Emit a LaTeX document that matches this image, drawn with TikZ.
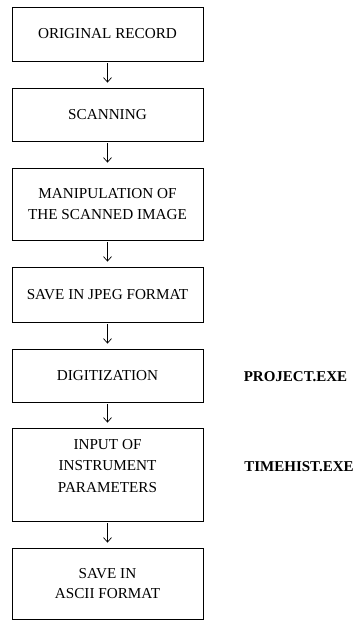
\documentclass[tikz,border=0pt]{standalone}
\usepackage{fontspec}
\setmainfont{Liberation Serif}
\usetikzlibrary{arrows.meta}
\tikzset{
  box/.style={draw=black, line width=0.8pt, minimum width=191pt, inner sep=0pt, align=center,
    font=\fontsize{15.2pt}{20.5pt}\selectfont},
  txt/.style={inner sep=0pt, align=center, font=\fontsize{15.2pt}{21.5pt}\selectfont},
  prog/.style={inner sep=0pt, font=\fontsize{15pt}{18pt}\selectfont\bfseries},
  flow/.style={line width=0.7pt, -{Straight Barb[length=4.5pt,width=8pt,line width=0.7pt]},
    shorten <=2pt, shorten >=5pt}
}
\begin{document}
\begin{tikzpicture}[x=1pt,y=-1pt]
\useasboundingbox (0,0) rectangle (356,621);
\node[box, minimum height=54pt] (b1) at (107.5,34) {ORIGINAL RECORD};
\node[box, minimum height=53pt] (b2) at (107.5,114.5) {SCANNING};
\node[box, minimum height=72pt] (b3) at (107.5,204) {MANIPULATION OF\\THE SCANNED IMAGE};
\node[box, minimum height=55pt] (b4) at (107.5,294.5) {SAVE IN JPEG FORMAT};
\node[box, minimum height=53pt] (b5) at (107.5,375.5) {DIGITIZATION};
\node[box, minimum height=93pt] (b6) at (107.5,474.5) {};
\node[txt] (t6) at (107.5,466) {INPUT OF\\INSTRUMENT\\PARAMETERS};
\node[box, minimum height=71pt] (b7) at (107.5,583.5) {SAVE IN\\ASCII FORMAT};
\node[prog] (p1) at (295.5,377) {PROJECT.EXE};
\node[prog] (p2) at (299,467) {TIMEHIST.EXE};
\draw[flow] (b1) -- (b2);
\draw[flow] (b2) -- (b3);
\draw[flow] (b3) -- (b4);
\draw[flow] (b4) -- (b5);
\draw[flow] (b5) -- (b6);
\draw[flow] (b6) -- (b7);
\end{tikzpicture}
\end{document}
